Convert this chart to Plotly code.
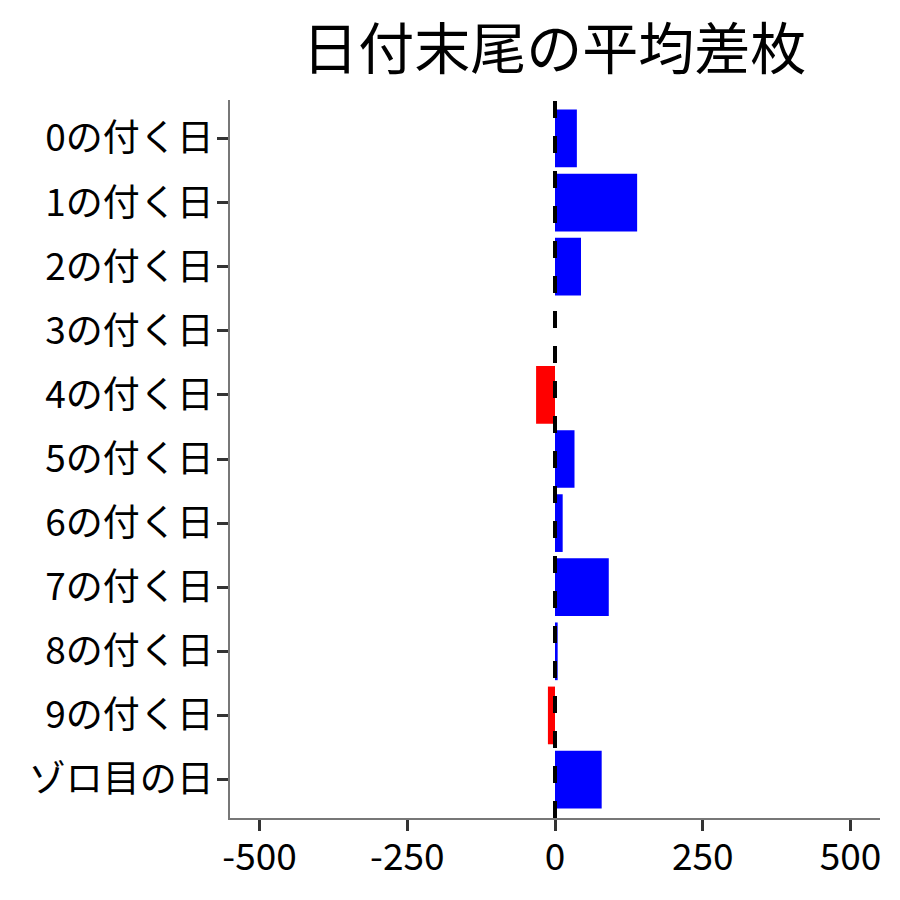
import plotly.graph_objects as go

labels = ["0の付く日", "1の付く日", "2の付く日", "3の付く日", "4の付く日",
          "5の付く日", "6の付く日", "7の付く日", "8の付く日", "9の付く日", "ゾロ目の日"]
avg_diff = [37, 139, 44, 0, -32, 33, 13, 91, 4.5, -12, 79]
x_ticks = [-500, -250, 0, 250, 500]
x_tick_text = ["-500", "-250", "0", "250", "500"]

colors = ["blue" if v >= 0 else "red" for v in avg_diff]

fig = go.Figure()
fig.add_trace(go.Bar(
    x=avg_diff, y=labels, orientation="h",
    marker=dict(color=colors, line=dict(width=0)),
    width=0.9,
))
fig.add_vline(x=0, line=dict(color="black", width=4, dash="17px,18px"))

fig.update_layout(
    width=900, height=900,
    paper_bgcolor="white", plot_bgcolor="white",
    font=dict(family="Noto Sans CJK JP", size=37, color="black"),
    title=dict(text="日付末尾の平均差枚", x=0.607, xanchor="center",
               y=0.954, yanchor="middle", font=dict(size=56)),
    margin=dict(l=222, r=28, t=92, b=90, autoexpand=False),
    showlegend=False,
)
fig.update_xaxes(
    range=[-550, 550], tickvals=x_ticks, ticktext=x_tick_text,
    showgrid=False, zeroline=False, automargin=False,
    showline=True, linecolor="#777777", linewidth=1.5,
    ticks="outside", ticklen=11, tickwidth=3, tickcolor="#333333",
    ticklabelstandoff=-5,
)
fig.update_yaxes(
    categoryorder="array", categoryarray=labels, autorange=False,
    range=[10.6, -0.6], showgrid=False, zeroline=False, automargin=False,
    showline=True, linecolor="#777777", linewidth=1.5,
    ticks="outside", ticklen=11, tickwidth=3, tickcolor="#333333",
    ticklabelstandoff=-4,
)

fig.write_html("out.html")
